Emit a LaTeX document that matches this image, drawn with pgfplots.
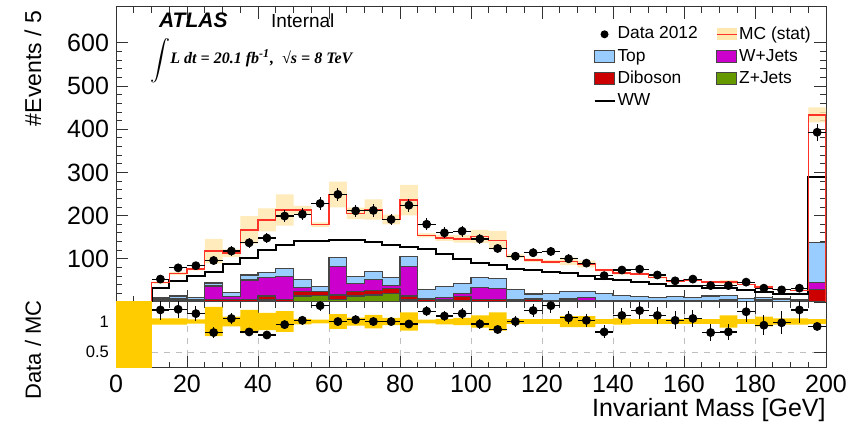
\documentclass[border=0pt]{standalone}
\usepackage{pgfplots}
\pgfplotsset{compat=1.18}
\usepackage{pgfplotstable}
\usepgfplotslibrary{fillbetween}
\usepackage{fontspec}
\setmainfont{Liberation Sans}
\newfontfamily\tnr{Liberation Serif}
\definecolor{topc}{RGB}{153,204,255}
\definecolor{wjc}{RGB}{204,0,204}
\definecolor{dibc}{RGB}{204,0,0}
\definecolor{zjc}{RGB}{102,153,0}
\definecolor{mcred}{RGB}{255,50,40}
\definecolor{band}{RGB}{255,232,175}
\definecolor{gold}{RGB}{255,204,0}
\definecolor{edge}{RGB}{70,70,70}

% bin left edges; cumulative stack tops: z (Z+Jets), d (+Diboson), w (+W+Jets), t (+Top), ww (+WW); mc = MC total; e = rel. MC stat
\pgfplotstableread{
x z d w t ww mc e
10 0 0 0 0 0 0 0
10 0.5 4.5 7 11 32 45 0.05
15 0.5 4.5 8 14 49 66 0.05
20 0.5 4.5 6.5 10 60 76 0.035
25 0.5 6 37 44 70 118 0.24
30 0.5 6 12 22 88 113 0.08
35 0.5 6 51 62.5 101 167 0.19
40 4.6 14 57 69 120 190 0.14
45 0.5 6 58.6 78 133 213 0.17
50 14 24 34 53 142 213 0.045
55 15 24 25 36 141 179 0.03
60 6 16 82 103 143 249 0.12
65 14 24 42 59 143 205 0.065
70 16 26 52 70 138 214 0.11
75 20 32 39 57 132 191 0.06
80 4.6 14 82 105 127 236 0.15
85 0.5 6 8.5 28 123 154 0.03
90 0.5 4.6 11 35.5 112 148 0.045
95 3 12 20 42 100 146 0.06
100 0.5 6 33 57 90 152 0.1
105 0.5 6 32 55 85 143 0.15
110 0.3 4.6 5.5 28 77 106 0.04
115 2 7 7.5 18.5 75 97 0.04
120 0.3 3 4 20 70 93 0.04
125 0.3 4.6 8.5 24 68 94 0.09
130 0.3 3 10 25 60 88 0.09
135 0.3 3 3.5 20 54 74 0.04
140 0.3 3 4 15 51 67 0.05
145 0.2 2.5 2.7 12 46 65 0.04
150 0.2 2.5 2.7 11 42 57 0.04
155 0.2 2.3 2.8 12 36 48 0.04
160 0.2 3 3.2 11 37 51 0.04
165 0.2 2.3 3.3 14 32 46 0.04
170 0.2 1 4.6 15.4 32 46 0.10
175 0.2 1.5 1.7 9 28 41 0.04
180 0.2 1.5 4.6 11 22 35 0.08
185 0.2 1 1.2 7 18.5 29 0.05
190 0.2 1 1.2 4.6 18 27 0.05
195 0.2 28 45.5 138 290 433 0.04
200 0.2 28 45.5 138 290 433 0.04
200 0 0 0 0 0 0 0
}\hist

% bin centres: data, data error, data/MC, ratio error
\pgfplotstableread{
xc d ed r er
12.5 53 7.3 1.19 0.16
17.5 79 8.9 1.20 0.135
22.5 84 9.2 1.13 0.12
27.5 96 9.8 0.82 0.085
32.5 118 10.9 1.05 0.095
37.5 137 11.7 0.83 0.07
42.5 148 12.2 0.78 0.064
47.5 199 14.1 0.95 0.067
52.5 203 14.2 1.02 0.072
57.5 228 15.1 1.26 0.083
62.5 249 15.8 1.00 0.063
67.5 211 14.5 1.03 0.071
72.5 212 14.6 1.00 0.069
77.5 191 13.8 1.00 0.072
82.5 224 15.0 0.96 0.064
87.5 180 13.4 1.17 0.087
92.5 160 12.6 1.09 0.086
97.5 164 12.8 1.13 0.088
102.5 146 12.1 0.96 0.079
107.5 124 11.1 0.87 0.078
112.5 106 10.3 1.00 0.097
117.5 114 10.7 1.18 0.11
122.5 117 10.8 1.26 0.117
127.5 100 10.0 1.06 0.106
132.5 90 9.5 1.02 0.107
137.5 61 7.8 0.83 0.106
142.5 74 8.6 1.10 0.128
147.5 76 8.7 1.18 0.135
152.5 62.5 7.9 1.10 0.139
157.5 49 7.0 1.02 0.146
162.5 53 7.3 1.05 0.144
167.5 38 6.2 0.82 0.133
172.5 38 6.2 0.83 0.134
177.5 46 6.8 1.16 0.17
182.5 32 5.7 0.94 0.166
187.5 28 5.3 0.98 0.185
192.5 32 5.7 1.19 0.21
197.5 393 19.8 0.92 0.046
}\pts

\pgfplotsset{
  base/.style={
    scale only axis, width=355pt, xmin=0, xmax=200,
    tick align=inside, xtick={0,20,...,200}, minor x tick num=3,
    major tick length=6pt, minor tick length=3pt,
    axis line style={line width=0.5pt, black!80},
    tick style={black!80, line width=0.4pt},
    /pgf/number format/assume math mode=true,
    tick label style={font=\fontsize{12.5}{14}\selectfont},
  },
  stk/.style={draw=edge, line width=0.6pt, const plot mark left, forget plot},
  datapts/.style={only marks, mark=*, mark size=2pt, black, forget plot,
    error bars/.cd, x dir=both, x fixed=2.5, y dir=both, y explicit,
    error mark=none, error bar style={line width=0.6pt, black}},
}

\begin{document}
\begin{tikzpicture}

\begin{axis}[base, at={(0,33pt)}, anchor=south west, height=147.5pt,
  ymin=0, ymax=683, ytick={0,100,...,600}, yticklabels={,100,200,300,400,500,600},
  minor y tick num=4, xticklabels={},
  legend columns=2, legend cell align=left,
  legend style={at={(0.672,0.942)}, anchor=north west, draw=none, fill=none,
    inner sep=0pt, font=\fontsize{8.7}{10}\selectfont, row sep=1.5pt,
    nodes={inner sep=1pt},
    /tikz/every even column/.append style={column sep=8pt}},
]
\addlegendimage{legend image code/.code={\path[draw=none, fill=none] (0pt,-3pt) rectangle (10pt,3pt); \fill[black, draw=none] (5pt,0pt) circle (2pt);}}
\addlegendentry{Data 2012}
\addlegendimage{legend image code/.code={\fill[band, draw=none] (0pt,-3pt) rectangle (10pt,3pt); \draw[mcred, line width=0.7pt] (0pt,0pt) -- (10pt,0pt);}}
\addlegendentry{MC (stat)}
\addlegendimage{legend image code/.code={\draw[fill=topc, draw=edge, line width=0.5pt] (0pt,-3pt) rectangle (10pt,3pt);}}
\addlegendentry{Top}
\addlegendimage{legend image code/.code={\draw[fill=wjc, draw=edge, line width=0.5pt] (0pt,-3pt) rectangle (10pt,3pt);}}
\addlegendentry{W+Jets}
\addlegendimage{legend image code/.code={\draw[fill=dibc, draw=edge, line width=0.5pt] (0pt,-3pt) rectangle (10pt,3pt);}}
\addlegendentry{Diboson}
\addlegendimage{legend image code/.code={\draw[fill=zjc, draw=edge, line width=0.5pt] (0pt,-3pt) rectangle (10pt,3pt);}}
\addlegendentry{Z+Jets}
\addlegendimage{legend image code/.code={\path[draw=none, fill=none] (0pt,-3pt) rectangle (10pt,3pt); \draw[black, line width=1pt] (0pt,0pt) -- (10pt,0pt);}}
\addlegendentry{WW}

\addplot[stk, fill=topc] table[x=x, y=t]{\hist} \closedcycle;
\addplot[stk, fill=wjc] table[x=x, y=w]{\hist} \closedcycle;
\addplot[stk, fill=dibc] table[x=x, y=d]{\hist} \closedcycle;
\addplot[stk, fill=zjc] table[x=x, y=z]{\hist} \closedcycle;

\addplot[name path=mup, draw=none, const plot mark left, forget plot] table[x=x, y expr=\thisrow{mc}*(1+\thisrow{e})]{\hist};
\addplot[name path=mlo, draw=none, const plot mark left, forget plot] table[x=x, y expr=\thisrow{mc}*(1-\thisrow{e})]{\hist};
\addplot[band, fill opacity=0.85, forget plot] fill between[of=mup and mlo];

\addplot[black, line width=1pt, const plot mark left, forget plot] table[x=x, y=ww]{\hist};
\addplot[mcred, line width=0.7pt, const plot mark left, forget plot] table[x=x, y=mc]{\hist};

\addplot[datapts] table[x=xc, y=d, y error=ed]{\pts};

\node[anchor=base west, font=\fontsize{10.5}{12}\selectfont\bfseries\itshape] at (rel axis cs:0.0507,0.931) {ATLAS};
\node[anchor=base west, font=\fontsize{9.5}{11}\selectfont] at (rel axis cs:0.2085,0.931) {Internal};
\node[anchor=base west, inner sep=0pt, font=\fontsize{8}{9}\selectfont\tnr\bfseries\itshape] at (rel axis cs:0.048,0.809) {{\fontsize{5.2}{6}\selectfont$\displaystyle\int$}L dt = 20.1 fb\textsuperscript{-1},\enspace √s = 8 TeV};
\end{axis}

\begin{axis}[base, at={(0,0)}, anchor=south west, height=33pt,
  ymin=0.24, ymax=1.32, ytick={0.5,1}, yticklabels={0.5,1},
  y tick label style={font=\fontsize{8.3}{10}\selectfont},
  grid=major, grid style={dashed, gray!50, line width=0.3pt},
]
\addplot[fill=gold, draw=none, forget plot] coordinates {(0,1.4) (10,1.4)} \closedcycle;
\addplot[name path=rup, draw=none, const plot mark left, forget plot] table[x=x, y expr=1+\thisrow{e}]{\hist};
\addplot[name path=rlo, draw=none, const plot mark left, forget plot] table[x=x, y expr=1-\thisrow{e}]{\hist};
\addplot[gold, forget plot] fill between[of=rup and rlo];
\addplot[datapts] table[x=xc, y=r, y error=er]{\pts};
\end{axis}

\node[rotate=90, anchor=east, font=\fontsize{11.5}{13}\selectfont] at (-41.5pt,182pt) {\#Events / 5};
\node[rotate=90, anchor=center, font=\fontsize{11}{13}\selectfont] at (-41.5pt,9pt) {Data / MC};
\node[anchor=east, inner sep=0pt, font=\fontsize{12.5}{14}\selectfont] at (355pt,-21pt) {Invariant Mass [GeV]};

\pgfresetboundingbox
\path[use as bounding box] (-58pt,-31.5pt) rectangle (369pt,184pt);
\end{tikzpicture}
\end{document}
